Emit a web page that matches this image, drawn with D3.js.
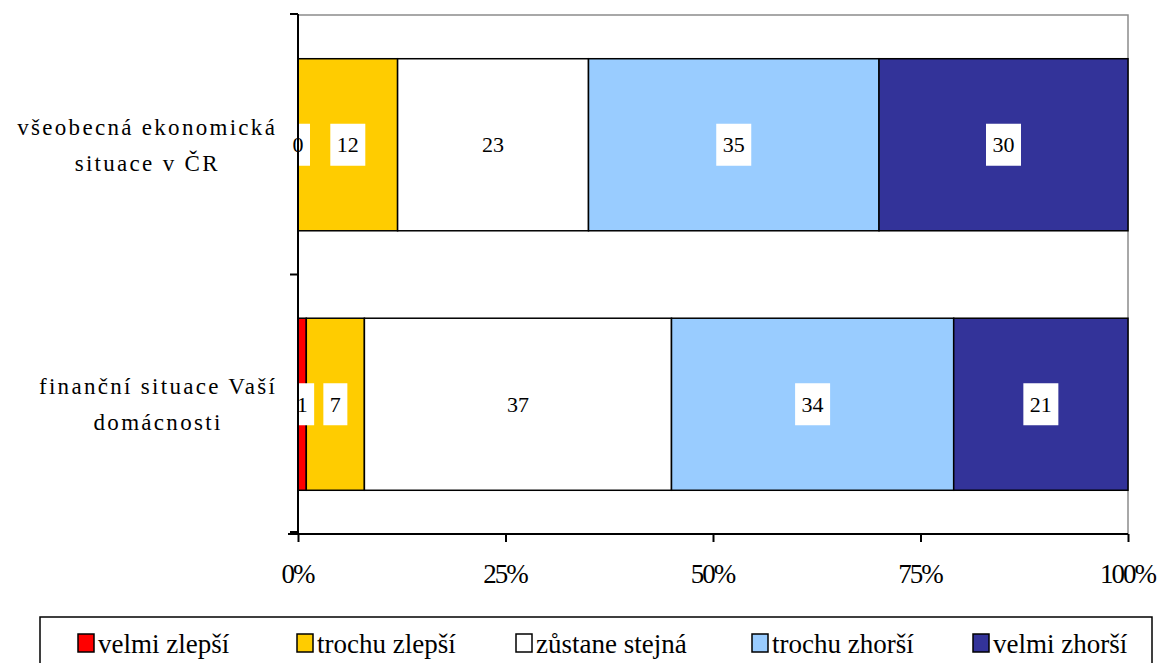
<!DOCTYPE html>
<html>
<head>
<meta charset="utf-8">
<script src="https://cdn.jsdelivr.net/npm/d3@7"></script>
<style>
  body { margin: 0; background: #fff; }
</style>
</head>
<body>
<div id="chart"></div>
<script>
// Data
const categories = ["všeobecná ekonomická situace v ČR", "finanční situace Vaší domácnosti"];
const categoryLines = [["všeobecná ekonomická", "situace v ČR"], ["finanční situace Vaší", "domácnosti"]];
const seriesNames = ["velmi zlepší", "trochu zlepší", "zůstane stejná", "trochu zhorší", "velmi zhorší"];
const seriesColors = ["#FF0000", "#FFCC00", "#FFFFFF", "#99CCFF", "#333399"];
const seriesValues = [
  [0, 1],    // velmi zlepší
  [12, 7],   // trochu zlepší
  [23, 37],  // zůstane stejná
  [35, 34],  // trochu zhorší
  [30, 21]   // velmi zhorší
];
const xTicks = [0, 25, 50, 75, 100];

const width = 1160, height = 663;
const plot = {left: 298, right: 1128, top: 15, bottom: 534};
const FONT = '"Liberation Serif", "Times New Roman", serif';

const svg = d3.select("#chart")
  .append("svg")
  .attr("width", width)
  .attr("height", height)
  .style("font-family", FONT);

const x = d3.scaleLinear().domain([0, 100]).range([plot.left, plot.right]);
const y = d3.scaleBand().domain(categories).range([plot.top, plot.bottom]).paddingInner(0.337).paddingOuter(0.1685);

// build stack table
const table = categories.map((c, i) => {
  const row = {category: c};
  seriesNames.forEach((s, j) => row[s] = seriesValues[j][i]);
  return row;
});
const stacked = d3.stack().keys(seriesNames)(table);

// plot frame (top/right gray)
svg.append("path")
  .attr("d", `M${plot.left},${plot.top}H${plot.right}V${plot.bottom}`)
  .attr("fill", "none")
  .attr("stroke", "#8c8c8c")
  .attr("stroke-width", 1.5);

// Bars
stacked.forEach((layer, j) => {
  svg.append("g").selectAll("rect")
    .data(layer)
    .enter()
    .append("rect")
    .attr("x", d => x(d[0]))
    .attr("y", d => y(d.data.category))
    .attr("width", d => x(d[1]) - x(d[0]))
    .attr("height", y.bandwidth())
    .attr("fill", seriesColors[j])
    .attr("stroke", "#000")
    .attr("stroke-width", 1.5);
});

// Value labels with white boxes
stacked.forEach((layer, j) => {
  const g = svg.append("g");
  layer.forEach(d => {
    const cx = (x(d[0]) + x(d[1])) / 2;
    const cy = y(d.data.category) + y.bandwidth() / 2;
    const val = d[1] - d[0];
    const t = g.append("text")
      .attr("x", cx)
      .attr("y", cy)
      .attr("dy", "0.35em")
      .attr("text-anchor", "middle")
      .attr("font-size", 22)
      .style("font-family", FONT)
      .attr("fill", "#000")
      .text(val);
    const w = t.node().getComputedTextLength() + 13;
    const x0 = Math.max(cx - w / 2, plot.left + 1);
    g.insert("rect", "text")
      .attr("x", x0)
      .attr("y", cy - 21)
      .attr("width", cx + w / 2 - x0)
      .attr("height", 42)
      .attr("fill", "#fff");
  });
});

// Left axis
const yAxisG = svg.append("g");
yAxisG.append("line")
  .attr("x1", plot.left).attr("x2", plot.left)
  .attr("y1", plot.top - 1).attr("y2", plot.bottom)
  .attr("stroke", "#000").attr("stroke-width", 2);
const bounds = [plot.top - 1].concat(categories.map(c => y(c) + y.bandwidth() + y.step() * y.paddingInner() / 2));
bounds[bounds.length - 1] = plot.bottom - 2;
yAxisG.selectAll(".tk").data(bounds).enter().append("line")
  .attr("x1", plot.left - 8).attr("x2", plot.left)
  .attr("y1", d => d).attr("y2", d => d)
  .attr("stroke", "#000").attr("stroke-width", 2);

// Category labels (block right edge near the axis, lines centred in the block)
const labelRight = 276;
categories.forEach((c, i) => {
  const cy = y(c) + y.bandwidth() / 2;
  const lines = categoryLines[i];
  const t = svg.append("text")
    .attr("text-anchor", "middle")
    .attr("font-size", 23)
    .attr("letter-spacing", 2.3)
    .style("font-family", FONT)
    .attr("fill", "#000");
  const spans = lines.map((ln, k) => t.append("tspan")
    .attr("y", cy - 10 + k * 36)
    .text(ln));
  const maxW = d3.max(spans, s => s.node().getComputedTextLength());
  spans.forEach(s => s.attr("x", labelRight - maxW / 2 + 1.2));
});

// Bottom axis
const xAxis = d3.axisBottom(x)
  .tickValues(xTicks)
  .tickSize(8)
  .tickPadding(22)
  .tickFormat(d => d + "%");
const xAxisG = svg.append("g")
  .attr("transform", `translate(0,${plot.bottom})`)
  .call(xAxis);
xAxisG.attr("font-family", null).attr("font-size", null);
xAxisG.select(".domain")
  .attr("d", `M${plot.left - 10},0H${plot.right}`)
  .attr("stroke", "#000").attr("stroke-width", 2);
xAxisG.selectAll(".tick line").attr("stroke", "#000").attr("stroke-width", 2);
xAxisG.selectAll(".tick text")
  .attr("font-size", 27)
  .attr("letter-spacing", -2)
  .attr("dx", -1)
  .style("font-family", FONT)
  .attr("fill", "#000");

// Legend
const legend = svg.append("g");
legend.append("rect")
  .attr("x", 40).attr("y", 617)
  .attr("width", 1112).attr("height", 60)
  .attr("fill", "#fff")
  .attr("stroke", "#000").attr("stroke-width", 1.5);
const legendX = [78, 297, 516, 752, 973];
seriesNames.forEach((s, j) => {
  legend.append("rect")
    .attr("x", legendX[j]).attr("y", 634)
    .attr("width", 16).attr("height", 18)
    .attr("fill", seriesColors[j])
    .attr("stroke", "#000").attr("stroke-width", 1.5);
  legend.append("text")
    .attr("x", legendX[j] + 20).attr("y", 653)
    .attr("font-size", 27)
    .style("font-family", FONT)
    .attr("fill", "#000")
    .text(s);
});
</script>
</body>
</html>
